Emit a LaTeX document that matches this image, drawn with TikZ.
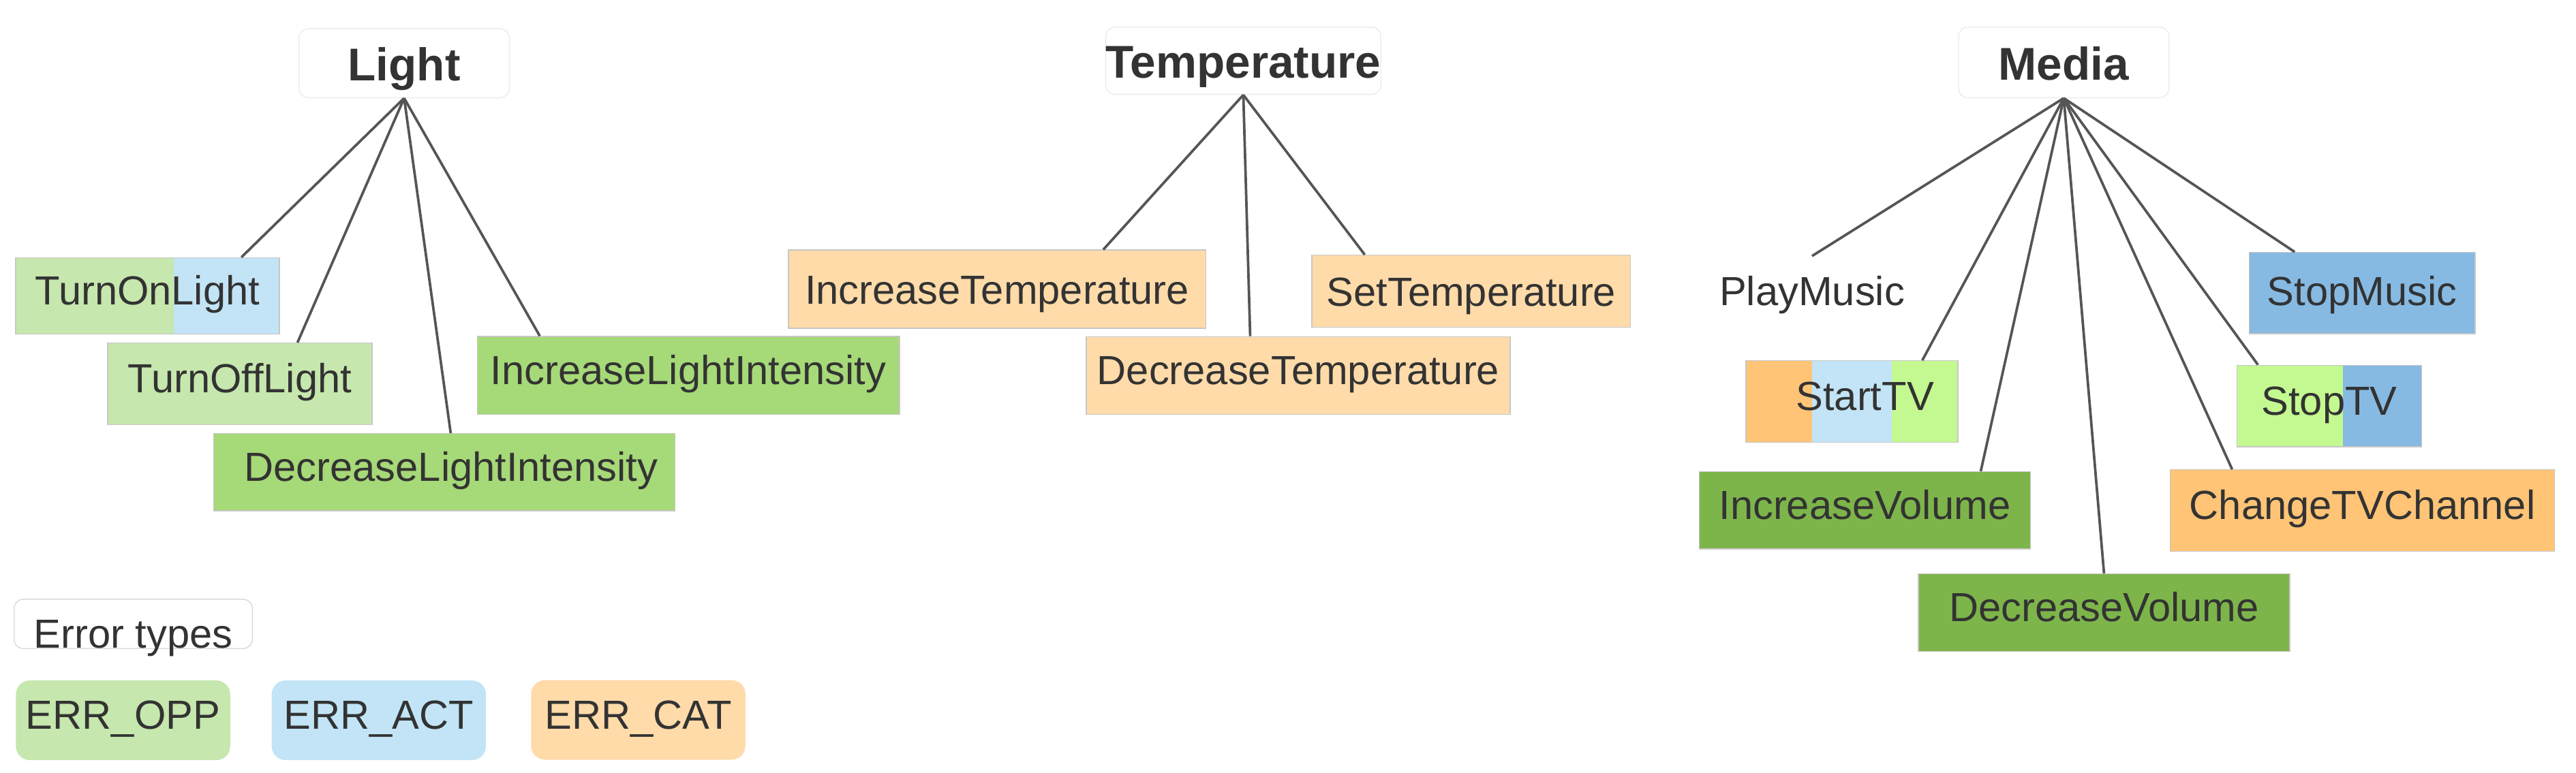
\documentclass[tikz,border=0pt]{standalone}
\usepackage{fontspec}
\setmainfont{Liberation Sans}
\usetikzlibrary{calc}

\definecolor{txt}{HTML}{333333}
\definecolor{edge}{HTML}{555555}
\definecolor{oppgreen}{HTML}{C6E7AD}
\definecolor{actblue}{HTML}{C2E4F6}
\definecolor{catorange}{HTML}{FFDBA9}
\definecolor{midgreen}{HTML}{A6D977}
\definecolor{darkgreen}{HTML}{7DB54A}
\definecolor{limegreen}{HTML}{C4F890}
\definecolor{midblue}{HTML}{86BAE3}
\definecolor{midorange}{HTML}{FFC476}

\tikzset{
  cmd/.style={draw=black!22, line width=.4pt, inner sep=0pt, text=txt,
    font=\fontsize{17.6}{21}\selectfont, text height=12.85pt, text depth=5.1pt},
  head/.style={draw=black!8, fill=white, rounded corners=4pt, inner sep=0pt, text=txt,
    font=\bfseries\fontsize{19.9}{24}\selectfont, text height=15.1pt, text depth=0pt},
  legend/.style={cmd, draw=none, rounded corners=6pt, minimum width=3.26cm, minimum height=1.2125cm},
  link/.style={draw=edge, line width=1.1pt},
  split/.style n args={3}{fill=#1, path picture={\fill[#3] ($(path picture bounding box.south west)!#2!(path picture bounding box.south east)$) rectangle (path picture bounding box.north east);}},
}

\begin{document}
\begin{tikzpicture}[x=.025cm, y=-.025cm]
\useasboundingbox (0,0) rectangle (1568,470.8);

% groups
\node [head, minimum width=3.2cm, minimum height=1.05cm] at (246,38.5) (light) {Light};
\node [head, minimum width=4.15cm, minimum height=1.025cm] at (756.8,37) (temp) {Temperature};
\node [head, minimum width=3.2cm, minimum height=1.075cm] at (1256.2,38) (media) {Media};

% light commands
\node [cmd, split={oppgreen}{.599}{actblue}, minimum width=4.01cm, minimum height=1.1625cm] at (89.8,180.2) (tol) {TurnOnLight};
\node [cmd, fill=oppgreen, minimum width=4.025cm, minimum height=1.2425cm] at (146,233.8) (toff) {TurnOffLight};
\node [cmd, fill=midgreen, minimum width=6.425cm, minimum height=1.1875cm] at (419,228.7) (ili) {IncreaseLightIntensity};
\node [cmd, fill=midgreen, minimum width=7.02cm, minimum height=1.175cm] at (270.4,287.6) (dli) {\hspace*{.21cm}DecreaseLightIntensity};

% temperature commands
\node [cmd, fill=catorange, minimum width=6.35cm, minimum height=1.19cm, text height=17.8pt] at (606.9,176.1) (itemp) {IncreaseTemperature};
\node [cmd, fill=catorange, minimum width=6.45cm, minimum height=1.185cm] at (790.2,228.7) (dtemp) {DecreaseTemperature};
\node [cmd, fill=catorange, minimum width=4.85cm, minimum height=1.1cm, text height=17.8pt] at (895.5,177.4) (stemp) {SetTemperature};

% media commands
\node [cmd, draw=none, minimum width=3cm, minimum height=1.225cm] at (1103,180.7) (play) {PlayMusic};
\node [cmd, fill=midorange, minimum width=3.225cm, minimum height=1.2425cm,
  path picture={\fill[actblue] ($(path picture bounding box.south west)!.312!(path picture bounding box.south east)$) rectangle ($(path picture bounding box.north west)!.688!(path picture bounding box.north east)$);
  \fill[limegreen] ($(path picture bounding box.south west)!.688!(path picture bounding box.south east)$) rectangle (path picture bounding box.north east);}]
  at (1127.2,244.6) (starttv) {\hspace*{.4cm}StartTV};
\node [cmd, fill=darkgreen, minimum width=5.04cm, minimum height=1.175cm] at (1135.1,310.8) (ivol) {IncreaseVolume};
\node [cmd, fill=darkgreen, minimum width=5.65cm, minimum height=1.1825cm] at (1280.7,373.2) (dvol) {DecreaseVolume};
\node [cmd, fill=midblue, minimum width=3.44cm, minimum height=1.2375cm, text height=16.1pt] at (1437.8,178.5) (stopm) {StopMusic};
\node [cmd, split={limegreen}{.575}{midblue}, minimum width=2.8125cm, minimum height=1.2425cm] at (1417.8,247.3) (stoptv) {StopTV};
\node [cmd, fill=midorange, minimum width=5.85cm, minimum height=1.2425cm] at (1438,311) (chtv) {ChangeTVChannel};

% legend
\node [cmd, draw=black!15, fill=white, rounded corners=4pt, minimum width=3.625cm, minimum height=.75cm,
  text height=.7375cm, text depth=0pt] at (81.1,380) (errtypes) {Error types};
\node [legend, fill=oppgreen] at (74.9,438.7) (opp) {ERR\_OPP};
\node [legend, fill=actblue] at (230.6,438.7) (act) {ERR\_ACT};
\node [legend, fill=catorange] at (388.5,438.5) (cat) {ERR\_CAT};
%
\draw[link] (light.south) -- ($(tol.north west)!.855!(tol.north east)$);
\draw[link] (light.south) -- ($(toff.north west)!.717!(toff.north east)$);
\draw[link] (light.south) -- ($(dli.north west)!.514!(dli.north east)$);
\draw[link] (light.south) -- ($(ili.north west)!.149!(ili.north east)$);
\draw[link] (temp.south) -- ($(itemp.north west)!.754!(itemp.north east)$);
\draw[link] (temp.south) -- ($(dtemp.north west)!.387!(dtemp.north east)$);
\draw[link] (temp.south) -- ($(stemp.north west)!.167!(stemp.north east)$);
\draw[link] (media.south) -- (play.north);
\draw[link] (media.south) -- ($(starttv.north west)!.831!(starttv.north east)$);
\draw[link] (media.south) -- ($(ivol.north west)!.849!(ivol.north east)$);
\draw[link] (media.south) -- (dvol.north);
\draw[link] (media.south) -- ($(chtv.north west)!.162!(chtv.north east)$);
\draw[link] (media.south) -- ($(stoptv.north west)!.116!(stoptv.north east)$);
\draw[link] (media.south) -- ($(stopm.north west)!.203!(stopm.north east)$);
%

\end{tikzpicture}
\end{document}
